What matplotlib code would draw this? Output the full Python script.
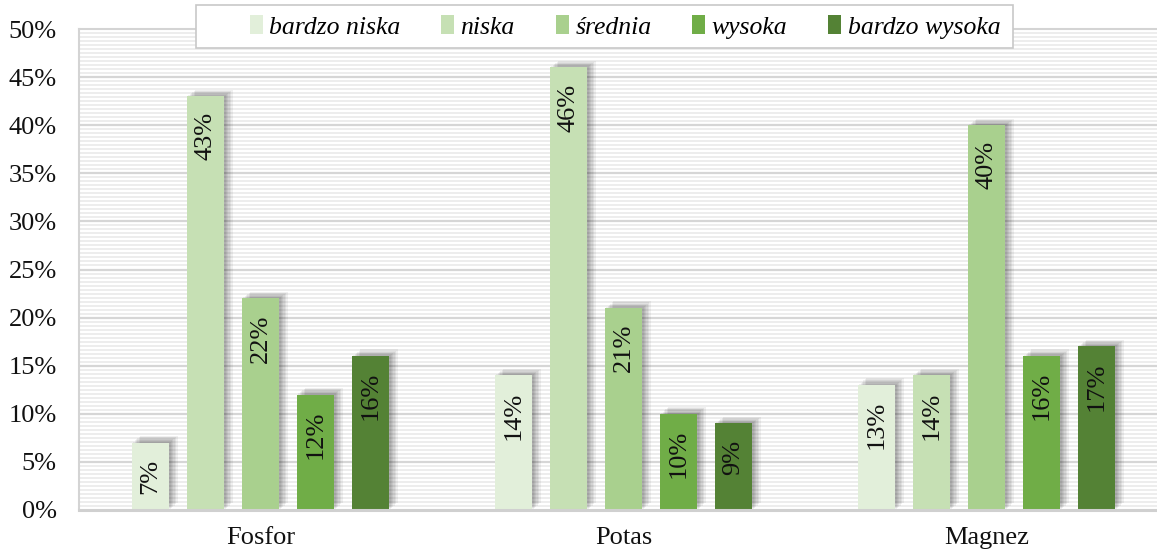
import matplotlib
matplotlib.use("Agg")
import matplotlib.pyplot as plt
import matplotlib.patheffects as pe
from matplotlib.patches import Patch, Rectangle
import numpy as np

categories = ["Fosfor", "Potas", "Magnez"]
series_names = ["bardzo niska", "niska", "średnia", "wysoka", "bardzo wysoka"]
bardzo_niska = [7, 14, 13]
niska = [43, 46, 14]
srednia = [22, 21, 40]
wysoka = [12, 10, 16]
bardzo_wysoka = [16, 9, 17]
series_values = [bardzo_niska, niska, srednia, wysoka, bardzo_wysoka]
colors = ["#e2efda", "#c6e0b4", "#a9d08e", "#70ad47", "#548235"]
yticks = [0, 5, 10, 15, 20, 25, 30, 35, 40, 45, 50]

plt.rcParams['font.family'] = ['Liberation Serif', 'DejaVu Serif']

W, H = 1157, 553
fig = plt.figure(figsize=(W / 100, H / 100), dpi=100)
ax = fig.add_axes([79 / W, 43 / H, 1089 / W, 481 / H])

# striped background
minor = np.arange(0, 50, 5 / 12)
for y in minor:
    if abs(y / 5 - round(y / 5)) > 1e-6:
        ax.axhline(y, color="#ededed", lw=1.4, zorder=0)
for y in yticks[1:-1]:
    ax.axhline(y, color="#d6d6d6", lw=1.6, zorder=0.5)

x = np.arange(len(categories))
step = 0.1515
width = 0.103
shadow = [pe.SimplePatchShadow(offset=(d, d * 0.8), shadow_rgbFace="#000000", alpha=0.06)
          for d in (1, 2, 3, 4, 5, 6)]
for i, (name, vals, col) in enumerate(zip(series_names, series_values, colors)):
    xs = x + (i - 2) * step
    bars = ax.bar(xs, vals, width=width, color=col, zorder=2)
    for b, v in zip(bars, vals):
        b.set_path_effects(shadow + [pe.Normal()])
        ax.annotate(f"{v}%", xy=(b.get_x() + b.get_width() / 2, v),
                    xytext=(0, -11.5), textcoords="offset points",
                    rotation=90, ha="center", va="top", fontsize=19,
                    color="#111111", zorder=3)

ax.set_xlim(-0.5, 2.5)
ax.set_ylim(0, 50)
ax.set_yticks(yticks)
ax.set_yticklabels([f"{t}%" for t in yticks], fontsize=19)
ax.set_xticks(x)
ax.set_xticklabels(categories, fontsize=19)
ax.tick_params(axis="both", length=0, colors="#111111")
ax.tick_params(axis="y", pad=16)
ax.tick_params(axis="x", pad=12)
for s in ["left", "top", "right"]:
    ax.spines[s].set_color("#d4d4d4")
    ax.spines[s].set_linewidth(1.5)
ax.spines["bottom"].set_color("#d0d0d0")
ax.spines["bottom"].set_linewidth(2.2)

# legend frame
fig.patches.append(Rectangle((196 / W, 1 - 48 / H), (1013 - 196) / W, 43 / H,
                             transform=fig.transFigure, facecolor="white",
                             edgecolor="#c8c8c8", lw=1.2, zorder=5))
handles = [Patch(facecolor=c, edgecolor="none") for c in colors]
leg = fig.legend(handles, series_names, loc="center",
                 bbox_to_anchor=(625 / W, 1 - 27 / H), ncol=5,
                 prop={"family": ["Liberation Serif", "DejaVu Serif"], "style": "italic", "size": 18.5},
                 frameon=False,
                 handlelength=0.5, handleheight=0.75, handletextpad=0.25,
                 columnspacing=1.6, borderpad=0.2)
leg.set_zorder(6)

fig.savefig("out.png", dpi=100)
